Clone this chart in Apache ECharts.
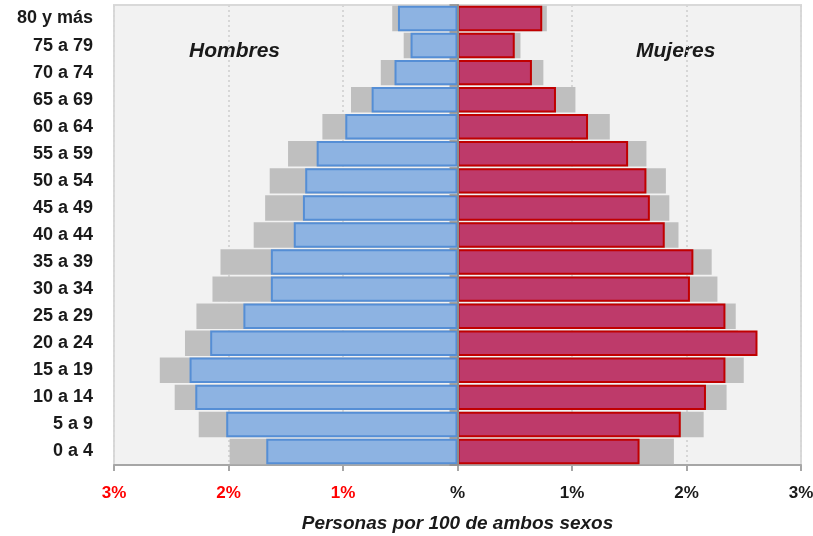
<!DOCTYPE html>
<html>
<head>
<meta charset="utf-8">
<script src="https://cdn.jsdelivr.net/npm/echarts@6/dist/echarts.min.js"></script>
<style>
  html, body { margin: 0; padding: 0; background: #fff; }
  #chart { width: 813px; height: 536px; }
</style>
</head>
<body>
<div id="chart"></div>
<script>
// age groups, bottom to top
var ageGroups = ['0 a 4', '5 a 9', '10 a 14', '15 a 19', '20 a 24', '25 a 29', '30 a 34',
    '35 a 39', '40 a 44', '45 a 49', '50 a 54', '55 a 59', '60 a 64', '65 a 69',
    '70 a 74', '75 a 79', '80 y más'];

// percentages (men are drawn to the left)
var men = [1.67, 2.02, 2.29, 2.34, 2.16, 1.87, 1.63, 1.63, 1.43, 1.35, 1.33, 1.23, 0.98, 0.75, 0.55, 0.41, 0.52];
var women = [1.59, 1.95, 2.17, 2.34, 2.62, 2.34, 2.03, 2.06, 1.81, 1.68, 1.65, 1.49, 1.14, 0.86, 0.65, 0.50, 0.74];
// grey comparison profile
var menRef = [1.99, 2.26, 2.47, 2.60, 2.38, 2.28, 2.14, 2.07, 1.78, 1.68, 1.64, 1.48, 1.18, 0.93, 0.67, 0.47, 0.57];
var womenRef = [1.89, 2.15, 2.35, 2.50, 2.45, 2.43, 2.27, 2.22, 1.93, 1.85, 1.82, 1.65, 1.33, 1.03, 0.75, 0.55, 0.78];

var xTicks = [-3, -2, -1, 0, 1, 2, 3];

var font = 'Liberation Sans, Arial, sans-serif';
var chart = echarts.init(document.getElementById('chart'));

function neg(arr) {
    return arr.map(function(v) { return -v; });
}

chart.setOption({
    animation: false,
    grid: {
        left: 114,
        right: 12,
        top: 5,
        bottom: 71,
        containLabel: false,
        outerBoundsMode: 'none',
        show: true,
        backgroundColor: '#F2F2F2',
        borderColor: '#D9D9D9',
        borderWidth: 2
    },
    xAxis: {
        type: 'value',
        min: xTicks[0],
        max: xTicks[xTicks.length - 1],
        interval: 1,
        name: 'Personas por 100 de ambos sexos',
        nameLocation: 'middle',
        nameGap: 49,
        nameTextStyle: {
            fontFamily: font,
            fontSize: 19,
            fontWeight: 'bold',
            fontStyle: 'italic',
            color: '#1a1a1a'
        },
        axisLine: { show: true, lineStyle: { color: '#A6A6A6', width: 2 } },
        axisTick: { show: true, length: 6, lineStyle: { color: '#A6A6A6', width: 2 } },
        axisLabel: {
            margin: 20,
            fontFamily: font,
            fontSize: 17,
            fontWeight: 'bold',
            formatter: function(v) {
                return v === 0 ? '%' : Math.abs(v) + '%';
            },
            color: function(v) {
                return v < 0 ? '#FF0000' : '#1a1a1a';
            }
        },
        splitLine: {
            show: true,
            lineStyle: { color: '#D6D6D6', width: 2, type: [2, 3] }
        }
    },
    yAxis: [
        {
            // age labels at the left
            type: 'category',
            data: ageGroups,
            position: 'left',
            axisLine: { show: false, onZero: false },
            axisTick: { show: false },
            axisLabel: {
                margin: 21,
                fontFamily: font,
                fontSize: 18,
                fontWeight: 'bold',
                color: '#1a1a1a'
            },
            splitLine: { show: false }
        },
        {
            // centre line with ticks
            type: 'category',
            data: ageGroups,
            position: 'right',
            z: 5,
            axisLine: { show: true, onZero: true, lineStyle: { color: '#8C8C8C', width: 2 } },
            axisTick: { show: true, inside: true, length: 8, lineStyle: { color: '#8C8C8C', width: 1.5 } },
            axisLabel: { show: false },
            splitLine: { show: false }
        }
    ],
    graphic: [
        {
            type: 'text',
            left: 189,
            top: 41,
            style: {
                text: 'Hombres',
                font: 'italic bold 21px ' + font,
                fill: '#1a1a1a'
            }
        },
        {
            type: 'text',
            left: 636,
            top: 41,
            style: {
                text: 'Mujeres',
                font: 'italic bold 21px ' + font,
                fill: '#1a1a1a'
            }
        }
    ],
    series: [
        {
            name: 'Hombres ref',
            type: 'bar',
            data: neg(menRef),
            barCategoryGap: '6%',
            barGap: '-100%',
            itemStyle: { color: '#BFBFBF' }
        },
        {
            name: 'Mujeres ref',
            type: 'bar',
            data: womenRef,
            barGap: '-100%',
            itemStyle: { color: '#BFBFBF' }
        },
        {
            name: 'Hombres',
            type: 'bar',
            data: neg(men),
            barGap: '-100%',
            itemStyle: { color: '#8DB3E2', borderColor: '#558ED5', borderWidth: 2 }
        },
        {
            name: 'Mujeres',
            type: 'bar',
            data: women,
            barGap: '-100%',
            itemStyle: { color: '#BE3A6A', borderColor: '#C00000', borderWidth: 2 }
        }
    ]
});
</script>
</body>
</html>
